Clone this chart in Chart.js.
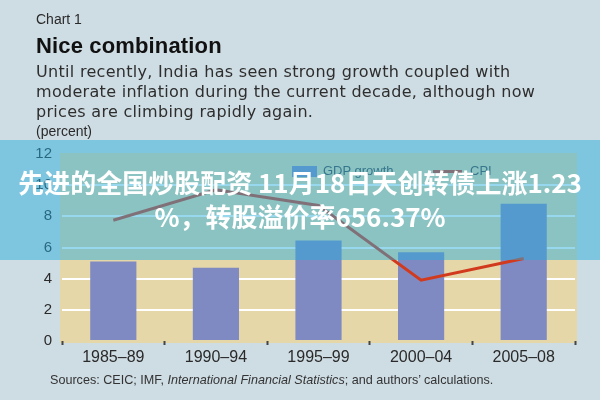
<!DOCTYPE html>
<html>
<head>
<meta charset="utf-8">
<script src="https://cdn.jsdelivr.net/npm/chart.js@4"></script>
<style>
  html, body { margin:0; padding:0; }
  body { width:600px; height:400px; background:#cedce3; position:relative; overflow:hidden; font-family:"Liberation Sans", Arial, sans-serif; }
  #wrap { position:absolute; left:0; top:0; width:600px; height:400px; }
  .t { position:absolute; white-space:nowrap; color:#2a2a2a; }
  #chartno { left:36px; top:11px; font-size:14px; }
  #title { left:36px; top:33px; font-size:22px; font-weight:bold; color:#111; letter-spacing:0.15px; }
  #sub { left:36px; top:62px; font-family:"DejaVu Sans", sans-serif; font-size:16px; line-height:20px; color:#2e2e2e; letter-spacing:0.3px; }
  #unit { left:36px; top:123px; font-size:14px; }
  #src { left:50px; top:373px; font-size:12.6px; color:#333; }
  #legend { position:absolute; left:292px; top:164px; font-size:13px; color:#444; }
  .lg { position:absolute; white-space:nowrap; }
  #banner { position:absolute; left:0; top:140px; width:600px; height:120px; background:rgba(40,173,221,0.48); }
  #btext { position:absolute; left:0; top:165px; width:600px; text-align:center; color:#fff; font-family:"Noto Sans CJK SC", sans-serif; font-weight:bold; font-size:26px; line-height:34px; }
</style>
</head>
<body>
<div id="wrap"><canvas id="c" width="600" height="400"></canvas></div>
<div class="t" id="chartno">Chart 1</div>
<div class="t" id="title">Nice combination</div>
<div class="t" id="sub">Until recently, India has seen strong growth coupled with<br>moderate inflation during the current decade, although now<br>prices are climbing rapidly again.</div>
<div class="t" id="unit">(percent)</div>
<div id="legend">
  <div class="lg" style="left:0;top:2px;width:25px;height:11px;background:#7f89c2"></div>
  <div class="lg" style="left:31px;top:-1px;">GDP growth</div>
  <div class="lg" style="left:141px;top:6px;width:29px;height:3px;background:#d23a1e"></div>
  <div class="lg" style="left:178px;top:-1px;">CPI</div>
</div>
<div class="t" id="src">Sources: CEIC; IMF, <i>International Financial Statistics</i>; and authors’ calculations.</div>
<div id="banner"></div>
<div id="btext">先进的全国炒股配资 11月18日天创转债上涨1.23<br>%，转股溢价率656.37%</div>
<script>
const categories = ["1985–89", "1990–94", "1995–99", "2000–04", "2005–08"];
const gdpGrowth = [5.1, 4.7, 6.45, 5.7, 8.8];
const cpi = [7.75, 9.7, 8.7, 3.9, 5.3];
const yTicks = [0, 2, 4, 6, 8, 10, 12];

const bgPlugin = {
  id: 'plotbg',
  beforeDraw(chart) {
    const a = chart.chartArea, ctx = chart.ctx;
    ctx.save();
    ctx.fillStyle = '#e6d7a9';
    ctx.fillRect(a.left - 2, a.top - 1, a.right - a.left + 4, a.bottom - a.top + 3);
    ctx.restore();
  }
};

new Chart(document.getElementById('c'), {
  data: {
    labels: categories,
    datasets: [
      { type: 'line', label: 'CPI', data: cpi, borderColor: '#d23a1e', borderWidth: 3, pointRadius: 0, tension: 0, order: 0 },
      { type: 'bar', label: 'GDP growth', data: gdpGrowth, backgroundColor: '#7f89c2', barPercentage: 0.45, categoryPercentage: 1, order: 1 }
    ]
  },
  options: {
    responsive: false,
    animation: false,
    devicePixelRatio: 1,
    layout: { padding: { left: 0, top: 154, right: 25, bottom: 0 } },
    plugins: { legend: { display: false }, tooltip: { enabled: false } },
    scales: {
      x: {
        offset: true,
        afterFit(s) { s.height = 59; },
        grid: { offset: true, drawOnChartArea: false, drawTicks: true, tickLength: 4, tickWidth: 2, tickColor: '#444', color: '#444' },
        border: { display: false },
        ticks: { padding: 3, color: '#2a2a2a', font: { family: 'Liberation Sans', size: 16 } }
      },
      y: {
        min: 0, max: 12,
        afterFit(s) { s.width = 62; },
        afterBuildTicks(s) { s.ticks = yTicks.map(v => ({ value: v })); },
        grid: { drawTicks: false, lineWidth: 2, color: ctx => (ctx.tick && ctx.tick.value > 0 && ctx.tick.value < 12) ? '#ffffff' : 'rgba(0,0,0,0)' },
        border: { display: false },
        ticks: { padding: 10, color: '#2a2a2a', font: { family: 'Liberation Sans', size: 15 } }
      }
    }
  },
  plugins: [bgPlugin]
});
</script>
</body>
</html>
